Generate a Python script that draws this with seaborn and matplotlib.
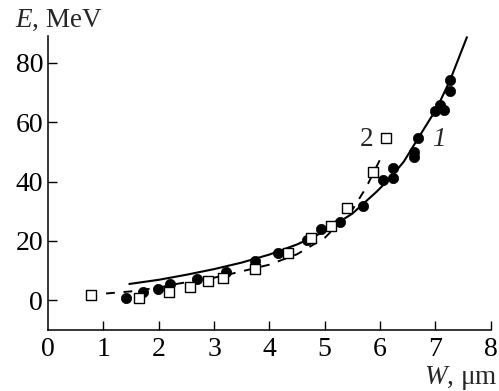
import matplotlib
matplotlib.use("Agg")
import matplotlib.pyplot as plt
import seaborn as sns

# Measured points, series 1 (filled circles)
w1 = [1.41, 1.71, 1.98, 2.21, 2.69, 3.22, 3.74, 4.16, 4.68, 4.93, 5.27, 5.70,
      6.05, 6.24, 6.24, 6.61, 6.61, 6.68, 7.00, 7.08, 7.15, 7.27, 7.26]
e1 = [0.9, 2.8, 3.9, 5.4, 7.2, 9.5, 13.3, 15.8, 20.3, 24.0, 26.4, 31.9,
      40.5, 44.5, 41.1, 50.1, 48.4, 54.6, 63.6, 65.9, 64.2, 70.4, 74.1]

# Measured points, series 2 (open squares)
w2 = [0.77, 1.65, 2.19, 2.57, 2.90, 3.16, 3.74, 4.33, 4.76, 5.11, 5.40, 5.87, 6.11]
e2 = [1.7, 0.8, 2.8, 4.5, 6.4, 7.5, 10.7, 15.8, 21.0, 25.0, 31.0, 43.3, 54.8]

# Calculated curve 1 (solid)
cw1 = [1.47, 2.0, 2.5, 3.0, 3.5, 4.0, 4.5, 5.0, 5.5, 5.94, 6.18, 6.43, 6.67, 7.03, 7.27, 7.57]
ce1 = [5.5, 6.9, 8.6, 10.5, 12.7, 15.4, 18.8, 23.2, 29.2, 36.6, 41.1, 46.7, 54.0, 64.8, 74.3, 88.6]

# Calculated curve 2 (dashed)
cw2 = [1.05, 1.5, 2.0, 2.35, 3.0, 3.4, 4.0, 4.5, 5.0, 5.5, 5.75, 6.03]
ce2 = [2.3, 3.0, 4.3, 5.6, 7.6, 9.3, 12.0, 15.5, 21.0, 30.5, 38.0, 48.5]

x_ticks = [0, 1, 2, 3, 4, 5, 6, 7, 8]
y_ticks = [0, 20, 40, 60, 80]

FS = 20
FS_LAB = 19.5

sns.set_theme(style="ticks")
plt.rcParams.update({
    "font.family": ["Liberation Serif", "DejaVu Serif"],
    "mathtext.fontset": "custom",
    "mathtext.rm": "Liberation Serif",
    "mathtext.it": "Liberation Serif:italic",
    "font.size": FS,
})

fig = plt.figure(figsize=(4.99, 3.91), dpi=100)
ax = fig.add_axes([48 / 499, 61 / 391, 442.7 / 499, 294 / 391])

sns.lineplot(x=cw1, y=ce1, ax=ax, color="black", lw=1.5, sort=False)
sns.lineplot(x=cw2, y=ce2, ax=ax, color="black", lw=1.4, sort=False,
             linestyle=(0, (4.5, 4.5)))
sns.scatterplot(x=w1, y=e1, ax=ax, marker="o", s=55, color="black",
                edgecolor="black", linewidth=0.5, zorder=3)
sns.scatterplot(x=w2, y=e2, ax=ax, marker="s", s=52, facecolor="white",
                edgecolor="black", linewidth=1.0, zorder=4)

ax.set_xlim(0, 8)
ax.set_ylim(-10, 89)
ax.set_xticks(x_ticks)
ax.set_yticks(y_ticks)
ax.set_xlabel("")
ax.set_ylabel("")
for s in ("top", "right"):
    ax.spines[s].set_visible(False)
for s in ("left", "bottom"):
    ax.spines[s].set_linewidth(1.1)
    ax.spines[s].set_color("black")
ax.tick_params(direction="in", length=6.5, width=1.0, colors="black",
               labelsize=FS, pad=3.5)
ax.tick_params(axis="x", pad=5)
# the origin keeps its label but has no tick mark
ax.xaxis.get_major_ticks()[0].tick1line.set_visible(False)

ax.text(5.76, 54, "2", ha="center", va="center", fontsize=FS_LAB)
ax.text(7.06, 54, "1", ha="center", va="center", fontsize=FS_LAB, style="italic")

fig.text(15 / 499, 1 - 27 / 391, "$E$, MeV", ha="left", va="baseline", fontsize=FS_LAB)
fig.text(497 / 499, 1 - 384 / 391, "$W$, \u03bcm", ha="right", va="baseline", fontsize=FS_LAB)

fig.savefig("out.png", dpi=100)
